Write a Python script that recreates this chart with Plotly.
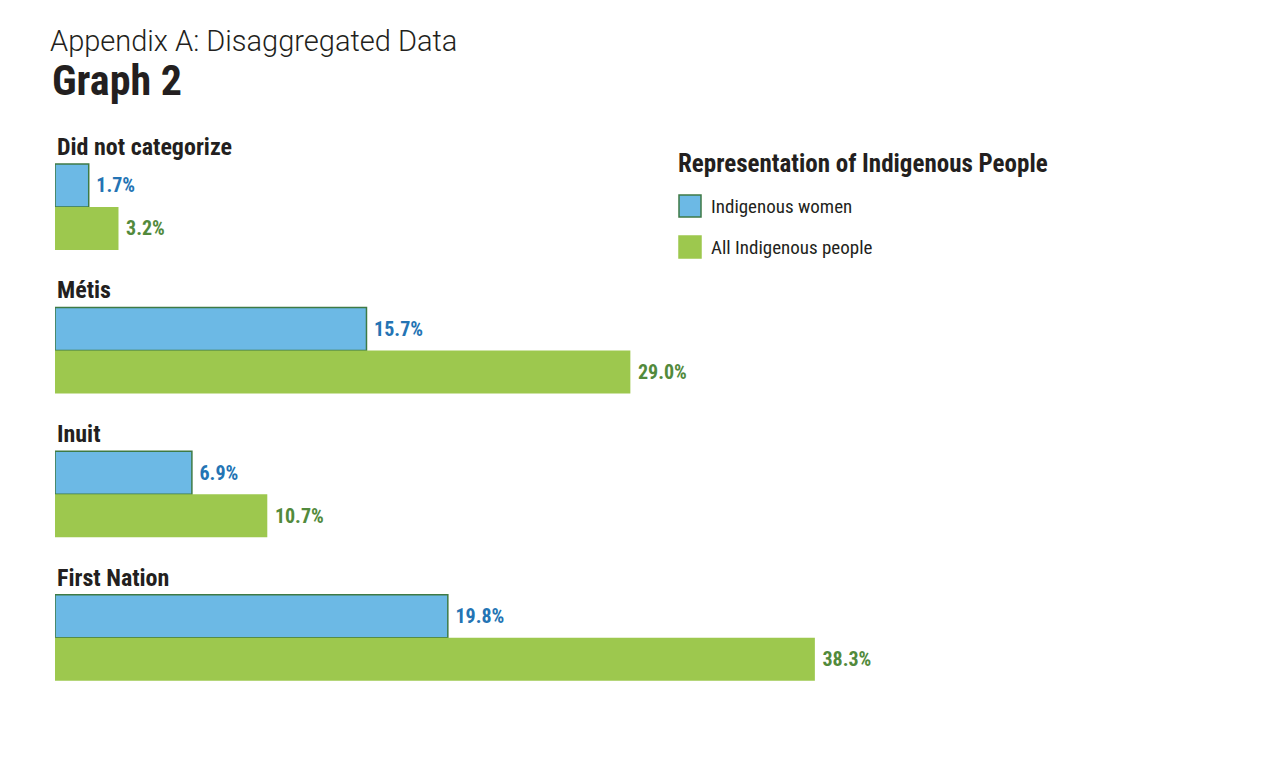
"""Graph 2: representation of Indigenous people, disaggregated."""

import plotly.graph_objects as go

categories = ["Did not categorize", "Métis", "Inuit", "First Nation"]
women = [1.7, 15.7, 6.9, 19.8]
all_people = [3.2, 29.0, 10.7, 38.3]
series_names = ["Indigenous women", "All Indigenous people"]

BLUE = "#6cb9e5"
GREEN = "#9dc84e"
OUTLINE = "#3e7a45"
BLUE_TXT = "#2474b4"
GREEN_TXT = "#528a3c"
DARK = "#231f20"
NARROW = "Liberation Sans Narrow, Roboto Condensed, Arial Narrow, sans-serif"

W, H = 1273, 773
OFF = 8  # page body margin
L, R, T, B = 55 - OFF, 18, 130 - OFF, 73 + OFF
PITCH = 3.34  # group spacing in bar-height units

pos_women = [i * PITCH for i in range(len(categories))]
pos_all = [p + 1 for p in pos_women]


def px(x, y):
    """screen pixel -> paper coords"""
    x, y = x - OFF, y - OFF
    return (x - L) / (W - L - R), (H - B - y) / (H - T - B)


fig = go.Figure()
fig.add_trace(go.Bar(
    x=women, y=pos_women, orientation="h", width=1, name=series_names[0],
    marker=dict(color=BLUE, line=dict(color=OUTLINE, width=1.5)),
    text=women, texttemplate=" %{x:.1f}%", textposition="outside",
    textfont=dict(family=NARROW, size=20, color=BLUE_TXT, weight="bold"),
    cliponaxis=False,
))
fig.add_trace(go.Bar(
    x=all_people, y=pos_all, orientation="h", width=1, name=series_names[1],
    marker=dict(color=GREEN, line=dict(width=0)),
    text=all_people, texttemplate=" %{x:.1f}%", textposition="outside",
    textfont=dict(family=NARROW, size=20, color=GREEN_TXT, weight="bold"),
    cliponaxis=False,
))

annotations = []
for cat, p in zip(categories, pos_women):
    annotations.append(dict(
        x=0, y=p - 0.9, xref="x", yref="y", text=cat, showarrow=False,
        xanchor="left", yanchor="middle",
        font=dict(family=NARROW, size=24, color=DARK, weight="bold"),
    ))

# titles
x0, y0 = px(48, 41)
annotations.append(dict(
    x=x0, y=y0, xref="paper", yref="paper", text="Appendix A: Disaggregated Data",
    showarrow=False, xanchor="left", yanchor="middle",
    font=dict(family="Roboto, sans-serif", size=29, color=DARK, weight=300),
))
x0, y0 = px(50, 81)
annotations.append(dict(
    x=x0, y=y0, xref="paper", yref="paper", text="Graph 2",
    showarrow=False, xanchor="left", yanchor="middle",
    font=dict(family=NARROW, size=42, color=DARK, weight="bold"),
))

# legend
x0, y0 = px(676, 164)
annotations.append(dict(
    x=x0, y=y0, xref="paper", yref="paper", text="Representation of Indigenous People",
    showarrow=False, xanchor="left", yanchor="middle",
    font=dict(family=NARROW, size=25, color=DARK, weight="bold"),
))
shapes = []
for name, fill, line_c, cy in [
    (series_names[0], BLUE, OUTLINE, 206),
    (series_names[1], GREEN, GREEN, 247),
]:
    ax0, ay0 = px(679, cy - 11)
    ax1, ay1 = px(701, cy + 11)
    shapes.append(dict(
        type="rect", xref="paper", yref="paper", x0=ax0, x1=ax1, y0=ay0, y1=ay1,
        fillcolor=fill, line=dict(color=line_c, width=1.5),
    ))
    tx, ty = px(709, cy)
    annotations.append(dict(
        x=tx, y=ty, xref="paper", yref="paper", text=name, showarrow=False,
        xanchor="left", yanchor="middle",
        font=dict(family=NARROW, size=19, color=DARK),
    ))

fig.update_layout(
    width=W, height=H,
    margin=dict(l=L, r=R, t=T, b=B),
    plot_bgcolor="white", paper_bgcolor="white",
    barmode="overlay", showlegend=False,
    xaxis=dict(range=[0, (W - L - R) / 19.84], visible=False),
    yaxis=dict(range=[-1.29 + (H - T - B) / 43, -1.29], visible=False),
    annotations=annotations, shapes=shapes,
)

fig.write_html("out.html")
